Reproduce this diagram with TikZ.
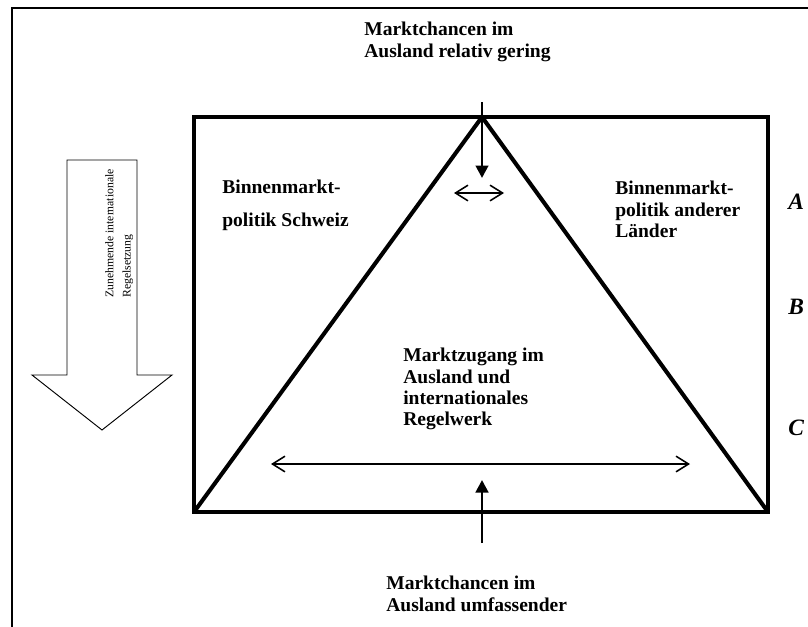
\documentclass[tikz,border=0pt]{standalone}
\usepackage{fontspec}
\setmainfont{Liberation Serif}
\usetikzlibrary{arrows.meta}
\tikzset{
  lbl/.style={anchor=north west, inner sep=0pt, align=left, font=\fontsize{12.5}{13.6}\selectfont\bfseries},
  letter/.style={anchor=west, inner sep=0pt, font=\fontsize{15}{17}\selectfont\bfseries\itshape},
  frameline/.style={line width=2.6pt, line join=miter},
  pointer/.style={line width=1.8pt, -{Triangle[length=8pt,width=8pt]}},
  span/.style={line width=1pt, {Straight Barb[length=8pt,width=10pt]}-{Straight Barb[length=8pt,width=10pt]}},
}

\begin{document}
\begin{tikzpicture}[x=0.64pt, y=-0.64pt]
\useasboundingbox (0,0) rectangle (808,627);
% outer frame, cut off right and below
\draw[line width=1.5pt] (12,640) -- (12,8) -- (820,8);
% box and triangle
\coordinate (tl) at (194,117);
\coordinate (br) at (768,512);
\coordinate (bl) at (194,512);
\coordinate (apex) at (482,117);
\draw[frameline] (tl) rectangle (br);
\draw[frameline] (bl) -- (apex) -- (br);
% big arrow on the left
\draw[line width=0.6pt] (67,160) -- (137,160) -- (137,375) -- (172,375) -- (102,430) -- (32,375) -- (67,375) -- cycle;
\node[rotate=90, anchor=north west, inner sep=0pt, align=left, font=\fontsize{7.5}{11}\selectfont] (trend) at (105,298) {Zunehmende internationale\\Regelsetzung};
% labels
\node[lbl] (topnote) at (364,22) {Marktchancen im\\Ausland relativ gering};
\node[lbl] (chpol) at (222,180) {Binnenmarkt-\\[7pt]politik Schweiz};
\node[lbl] (otherpol) at (615,181) {Binnenmarkt-\\politik anderer\\Länder};
\node[lbl] (access) at (403,348) {Marktzugang im\\Ausland und\\internationales\\Regelwerk};
\node[lbl] (botnote) at (386,576) {Marktchancen im\\Ausland umfassender};
\node[letter] (la) at (788,202) {A};
\node[letter] (lb) at (788,307) {B};
\node[letter] (lc) at (788,428) {C};
% arrows
\coordinate (topfoot) at (482,102);
\coordinate (toptip) at (482,178);
\coordinate (sl) at (454,193);
\coordinate (sr) at (504,193);
\coordinate (bspanl) at (271,464);
\coordinate (bspanr) at (690,464);
\coordinate (upfoot) at (482,543);
\coordinate (uptip) at (482,480);
\draw[pointer] (topfoot) -- (toptip);
\draw[span] (sl) -- (sr);
\draw[span] (bspanl) -- (bspanr);
\draw[pointer] (upfoot) -- (uptip);
\end{tikzpicture}
\end{document}
